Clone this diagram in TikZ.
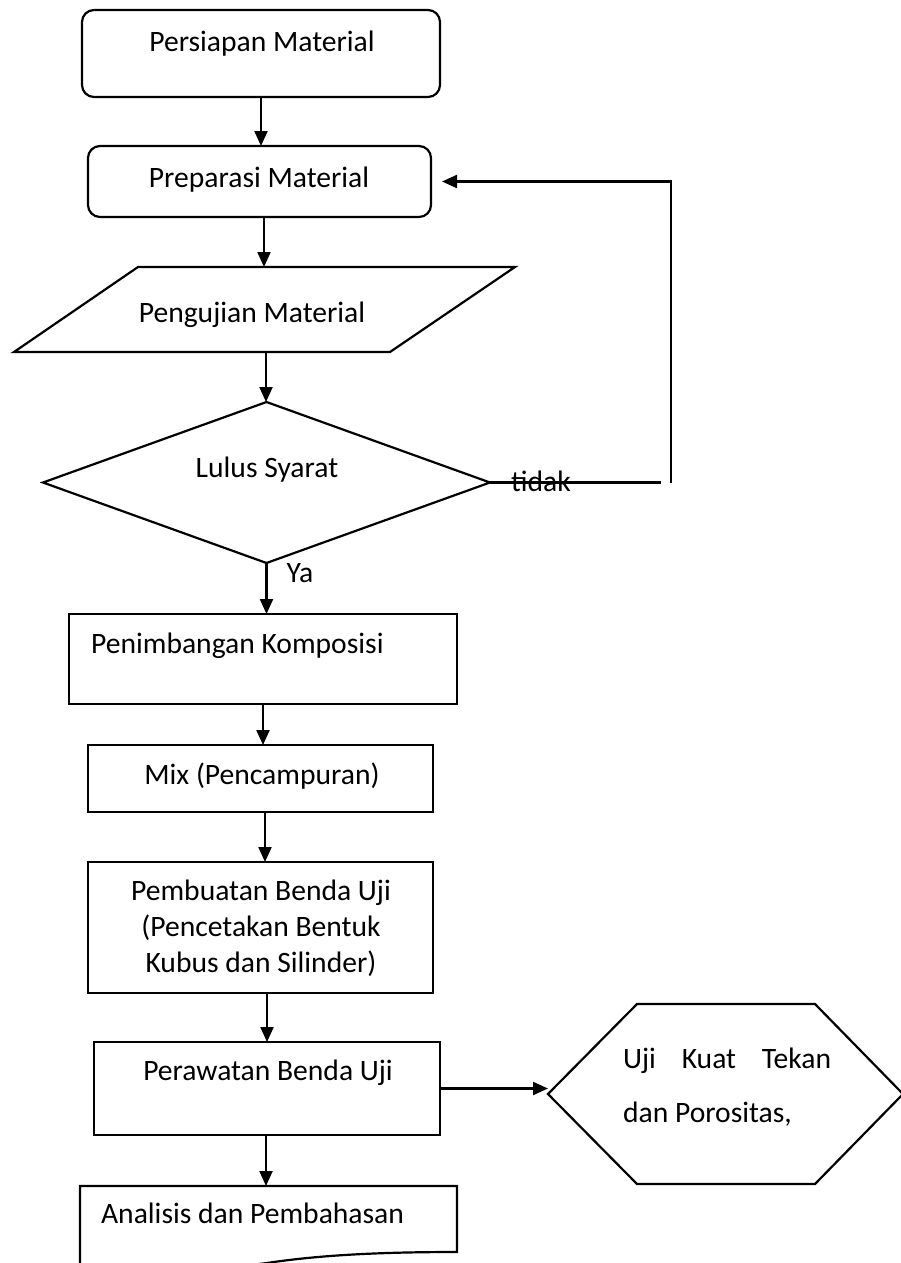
\documentclass[tikz,border=0pt]{standalone}
\usepackage{fontspec}
\setmainfont{Carlito}
\usetikzlibrary{arrows.meta,shapes.geometric}
\begin{document}
\begin{tikzpicture}[x=1pt,y=-1pt,line width=2.2pt,
  box/.style={draw,rectangle,inner sep=0pt,outer sep=0pt},
  rbox/.style={box,rounded corners=12pt},
  txt/.style={font=\fontsize{29.6}{36}\selectfont,inner sep=0pt,anchor=base},
  arr/.style={-{Triangle[length=15pt,width=13pt]},line width=2.2pt}]
\useasboundingbox (0,0) rectangle (901,1263);
\fill[white] (0,0) rectangle (901,1263);

% shapes
\node[rbox,minimum width=358pt,minimum height=87pt] (persiapan) at (261,53.5) {};
\node[rbox,minimum width=343pt,minimum height=71pt] (preparasi) at (259.5,181.5) {};
\draw (138,267) -- (515,267) -- (390,352) -- (14,352) -- cycle;
\coordinate (pgT) at (264,267);
\coordinate (pgB) at (266,352);
\node[diamond,draw,minimum width=447pt,minimum height=161pt,inner sep=0pt,outer sep=0pt] (lulus) at (266.5,482.5) {};
\node[box,minimum width=388pt,minimum height=90pt] (penimbangan) at (263,659) {};
\node[box,minimum width=345pt,minimum height=67pt] (mix) at (260.5,778.5) {};
\node[box,minimum width=345pt,minimum height=131pt] (pembuatan) at (260.5,927.5) {};
\node[box,minimum width=346pt,minimum height=93pt] (perawatan) at (267,1088.5) {};
\draw (548,1094) -- (637,1004) -- (815,1004) -- (903,1094) -- (815,1184) -- (637,1184) -- cycle;
\coordinate (hexW) at (548,1094);
\draw (80,1270) -- (80,1186) -- (457,1186) -- (457,1252)
  .. controls (380,1252) and (320,1255) .. (267,1263)
  .. controls (200,1272) and (130,1270) .. (80,1270);
\coordinate (anTop) at (266,1186);

% connectors
\draw[arr] (persiapan.south) -- (persiapan.south |- preparasi.north);
\draw[arr] ([xshift=4.5pt]preparasi.south) -- (pgT);
\draw[arr] (pgB) -- (pgB |- lulus.north);
\draw[arr] (lulus.south) -- (lulus.south |- penimbangan.north);
\draw[arr] (penimbangan.south) -- (penimbangan.south |- mix.north);
\draw[arr] ([xshift=4.5pt]mix.south) -- ([xshift=4.5pt]pembuatan.north);
\draw[arr] (pembuatan.south -| perawatan.north) -- (perawatan.north);
\draw[arr] ([xshift=-1pt]perawatan.south) -- (anTop);
\draw[arr] (perawatan.east) -- (perawatan.east -| hexW);
\coordinate (fbA) at (661,482.5);
\coordinate (fbB) at (671,482.5);
\coordinate (fbC) at (671,181.5);
\draw (lulus.east) -- (fbA);
\draw[arr] (fbB) -- (fbC) -- ([xshift=11pt]preparasi.east);

% texts
\node[txt] (tPersiapan) at (262,52) {Persiapan Material};
\node[txt] (tPreparasi) at (259,187) {Preparasi Material};
\node[txt] (tPengujian) at (252,322) {Pengujian Material};
\node[txt] (tLulus) at (267,477) {Lulus Syarat};
\node[txt] (tTidak) at (541,491) {tidak};
\node[txt] (tYa) at (300,582) {Ya};
\node[txt,anchor=base west] (tPenimbangan) at (90,653) {Penimbangan Komposisi};
\node[txt] (tMix) at (262,784) {Mix (Pencampuran)};
\node[txt,align=center] (tPembuatan) at (261,972) {Pembuatan Benda Uji\\(Pencetakan Bentuk\\Kubus dan Silinder)};
\node[txt] (tPerawatan) at (268,1080) {Perawatan Benda Uji};
\node[txt,anchor=base west] (tUji) at (622,1068) {\makebox[208pt][s]{Uji Kuat Tekan}};
\node[txt,anchor=base west] (tDan) at (622,1122) {dan Porositas,};
\node[txt,anchor=base west] (tAnalisis) at (100,1223) {Analisis dan Pembahasan};
\end{tikzpicture}
\end{document}
